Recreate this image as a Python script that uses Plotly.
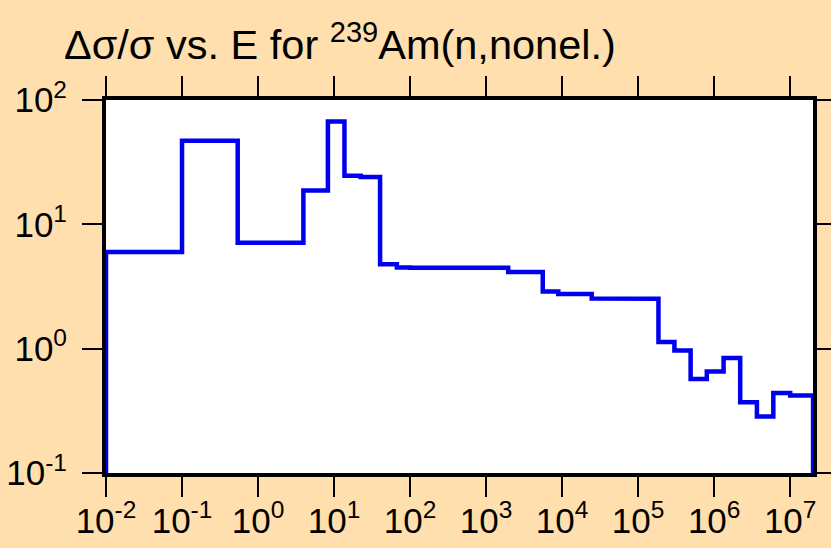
import plotly.graph_objects as go

# Energy bin edges (eV) and relative uncertainty values per bin
bin_edges = [1e-2, 0.1, 0.54, 3.95, 8.3, 13.7, 22.4, 40.3, 67, 100, 160, 300, 560, 1000,
             1950, 5560, 8900, 24500, 4.1e4, 1.07e5, 1.85e5, 3.0e5, 4.9e5, 8.0e5,
             1.33e6, 2.2e6, 3.65e6, 6.0e6, 1.0e7, 2.0e7]
rel_unc = [6.0, 47, 7.1, 18.7, 67, 24.6, 24.0, 4.78, 4.49, 4.47, 4.48, 4.46, 4.47, 4.48,
           4.13, 2.88, 2.75, 2.53, 2.54, 2.52, 1.13, 0.966, 0.57, 0.655, 0.84, 0.37,
           0.285, 0.44, 0.42]

x_exps = [-2, -1, 0, 1, 2, 3, 4, 5, 6, 7]
y_exps = [-1, 0, 1, 2]
x_tickvals = [10.0 ** e for e in x_exps]
x_ticktext = ["10<sup>%d</sup>" % e for e in x_exps]
y_tickvals = [10.0 ** e for e in y_exps]
y_ticktext = ["10<sup>%d</sup>" % e for e in y_exps]
y_floor = 0.1

xs = [bin_edges[0]]
ys = [y_floor]
for i, v in enumerate(rel_unc):
    xs += [bin_edges[i], bin_edges[i + 1]]
    ys += [v, v]
xs.append(bin_edges[-1])
ys.append(y_floor)

fig = go.Figure()
fig.add_trace(go.Scatter(x=xs, y=ys, mode="lines",
                         line=dict(color="#0000EE", width=4.5),
                         showlegend=False, hoverinfo="skip"))

font_family = "Liberation Sans, Arial, sans-serif"
tick_font = dict(family=font_family, size=35, color="black")
axis_common = dict(
    type="log", showline=True, linecolor="black", linewidth=4, mirror="ticks",
    ticks="outside", ticklen=20, tickwidth=2, tickcolor="black",
    showgrid=False, zeroline=False, layer="below traces", automargin=False,
)

fig.update_xaxes(range=[-2, 7.3], tickmode="array", tickvals=x_tickvals,
                 ticktext=x_ticktext, ticklabelstandoff=-6, tickfont=tick_font,
                 **axis_common)
fig.update_yaxes(range=[-1, 2], tickmode="array", tickvals=y_tickvals,
                 ticktext=y_ticktext, ticklabelstandoff=8, tickfont=tick_font,
                 **axis_common)

fig.add_annotation(text="Δσ/σ vs. E for <sup>239</sup>Am(n,nonel.)",
                   xref="paper", yref="paper", x=-0.062, y=1.155,
                   xanchor="left", yanchor="middle", showarrow=False,
                   font=dict(family=font_family, size=41.5, color="black"))

fig.update_layout(
    width=831, height=548,
    margin=dict(l=106, r=18, t=100, b=75, pad=0),
    paper_bgcolor="#FFDFAD", plot_bgcolor="white",
    font=dict(family=font_family, color="black"),
)

fig.write_html("out.html", config={"displayModeBar": False},
               post_script="document.body.style.margin='0';document.body.style.overflow='hidden';")
